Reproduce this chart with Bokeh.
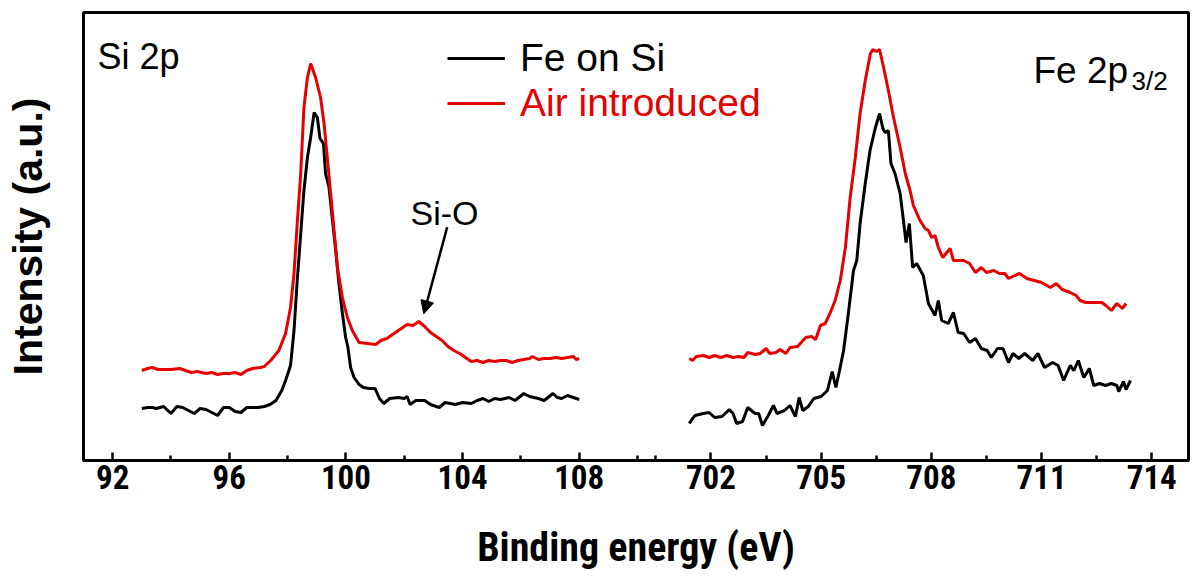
from bokeh.plotting import figure
from bokeh.models import (Range1d, LinearAxis, FixedTicker, Legend, LegendItem,
                          Label, Arrow, NormalHead)
from bokeh.embed import file_html
from bokeh.resources import INLINE

# ---------------- data (binding energy in eV, intensity in a.u.) ----------------
si_e_fe = [93.0, 93.2, 93.36, 93.5, 93.75, 94.0, 94.2, 94.4, 94.6, 94.8, 95.0, 95.2, 95.4,
           95.6, 95.8, 96.0, 96.2, 96.4, 96.6, 96.8, 97.0, 97.2, 97.4, 97.6, 97.8, 97.93,
           98.1, 98.22, 98.33, 98.45, 98.56, 98.68, 98.79, 98.91, 99.02, 99.11, 99.23, 99.3,
           99.42, 99.54, 99.65, 99.76, 99.88, 99.99, 100.07, 100.16, 100.28, 100.45, 100.6,
           100.8, 101.0, 101.15, 101.3, 101.5, 101.8, 102.0, 102.1, 102.2, 102.4, 102.7,
           102.9, 103.2, 103.4, 103.75, 104.0, 104.3, 104.5, 104.7, 104.9, 105.1, 105.3,
           105.6, 105.8, 106.1, 106.3, 106.6, 106.8, 107.1, 107.25, 107.4, 107.6, 107.8, 108.0]
si_fe_on_si = [52, 53, 53, 52, 54, 47, 54, 53, 50, 47, 52, 51, 48,
               45, 53, 53, 49, 48, 53, 53, 53, 54, 56, 60, 70, 80,
               95, 130, 180, 227, 270, 303, 323, 348, 343, 322, 317, 287,
               273, 240, 210, 177, 147, 123, 113, 93, 83, 76, 73,
               72, 72, 62, 57, 62, 63, 62, 64, 56, 60, 60,
               56, 53, 58, 56, 58, 57, 60, 62, 59, 62, 61,
               63, 60, 67, 64, 62, 60, 67, 63, 62, 65, 63, 61]

si_e_air = [93.0, 93.2, 93.36, 93.55, 93.75, 94.0, 94.3, 94.5, 94.7, 94.9, 95.2, 95.4, 95.6,
            95.8, 96.0, 96.2, 96.4, 96.6, 96.8, 97.07, 97.2, 97.42, 97.7, 97.93, 98.1, 98.22,
            98.33, 98.45, 98.56, 98.68, 98.79, 98.96, 99.13, 99.25, 99.36, 99.54, 99.71, 99.88,
            100.05, 100.22, 100.45, 100.74, 101.02, 101.2, 101.4, 101.6, 101.9, 102.1, 102.3,
            102.5, 102.7, 102.9, 103.1, 103.3, 103.5, 103.7, 103.9, 104.1, 104.3, 104.5, 104.7,
            104.9, 105.1, 105.3, 105.5, 105.7, 105.9, 106.1, 106.3, 106.4, 106.6, 106.8, 107.0,
            107.2, 107.4, 107.6, 107.8, 107.9, 108.0]
si_air = [90, 92, 93, 91, 91, 91, 92, 90, 88, 89, 87, 88, 86,
          87, 87, 88, 86, 90, 92, 93, 94, 100, 110, 127, 153, 187,
          237, 287, 353, 383, 397, 383, 363, 337, 303, 247, 193, 163,
          143, 130, 118, 117, 116, 120, 122, 126, 132, 136, 135,
          139, 134, 128, 124, 120, 114, 110, 107, 103, 99, 100, 98,
          100, 99, 100, 100, 98, 100, 101, 102, 104, 101, 102, 102,
          103, 102, 103, 104, 101, 102]

fe_e_fe = [701.41, 701.5, 701.57, 701.79, 701.95, 702.1, 702.3, 702.5, 702.6, 702.7, 702.86,
           703.0, 703.2, 703.3, 703.4, 703.56, 703.7, 703.8, 704.0, 704.15, 704.3, 704.4, 704.5,
           704.65, 704.8, 705.0, 705.17, 705.3, 705.4, 705.5, 705.61, 705.74, 705.88, 705.97,
           706.06, 706.2, 706.33, 706.47, 706.59, 706.68, 706.74, 706.83, 706.9, 707.01, 707.15,
           707.24, 707.31, 707.4, 707.49, 707.6, 707.78, 707.92, 708.1, 708.19, 708.28, 708.46,
           708.6, 708.73, 708.88, 709.04, 709.2, 709.36, 709.52, 709.63, 709.8, 709.95, 710.1,
           710.22, 710.38, 710.54, 710.76, 710.9, 711.08, 711.3, 711.45, 711.6, 711.78, 711.88,
           712.0, 712.15, 712.3, 712.42, 712.58, 712.74, 712.9, 713.05, 713.1, 713.23, 713.3, 713.42]
fe_fe_on_si = [37, 42, 45, 47, 48, 43, 44, 51, 47, 37, 39,
               53, 47, 47, 35, 45, 55, 47, 50, 55, 44, 63, 50,
               54, 62, 64, 70, 89, 73, 90, 110, 147, 190, 200,
               237, 277, 310, 332, 347, 332, 328, 330, 297, 287, 267,
               240, 218, 237, 193, 197, 185, 157, 145, 160, 140, 137,
               148, 128, 127, 118, 122, 112, 110, 103, 112, 112, 98,
               107, 102, 107, 100, 107, 93, 98, 95, 80, 95, 90,
               100, 83, 92, 75, 77, 75, 77, 75, 69, 79, 71, 80]

fe_e_air = [701.41, 701.5, 701.6, 701.8, 701.95, 702.1, 702.27, 702.43, 702.6, 702.75, 702.9,
            703.0, 703.2, 703.34, 703.5, 703.6, 703.77, 703.88, 704.04, 704.15, 704.36, 704.58,
            704.74, 704.85, 704.98, 705.11, 705.25, 705.38, 705.52, 705.66, 705.79, 705.93,
            706.06, 706.2, 706.34, 706.41, 706.5, 706.59, 706.7, 706.83, 706.97, 707.15, 707.29,
            707.42, 707.51, 707.69, 707.83, 707.92, 708.01, 708.1, 708.19, 708.31, 708.42,
            708.51, 708.6, 708.73, 708.88, 709.04, 709.2, 709.36, 709.5, 709.7, 709.85, 710.0,
            710.1, 710.27, 710.4, 710.6, 710.8, 711.0, 711.24, 711.4, 711.56, 711.78, 711.94,
            712.05, 712.2, 712.4, 712.64, 712.75, 712.9, 713.05, 713.2, 713.3]
fe_air = [102, 100, 104, 105, 103, 105, 103, 105, 103, 104, 103,
          108, 106, 107, 112, 107, 108, 111, 107, 113, 114, 123,
          124, 121, 135, 137, 148, 160, 180, 213, 263, 303,
          347, 380, 407, 411, 409, 411, 393, 370, 343, 313, 287,
          270, 255, 240, 232, 230, 223, 225, 213, 203, 208,
          212, 200, 200, 200, 197, 188, 193, 188, 190, 187, 187,
          182, 185, 187, 182, 180, 178, 173, 177, 171, 168, 165,
          160, 158, 158, 158, 155, 150, 157, 152, 157]

si_ticks = [92, 96, 100, 104, 108]
si_minor = [94, 98, 102, 106, 110]
fe_ticks = [702, 705, 708, 711, 714]
fe_minor = [700.5, 703.5, 706.5, 709.5, 712.5]

series_names = ["Fe on Si", "Air introduced"]
series_colors = ["black", "#e60000"]

# ---------------- layout ----------------
W, H = 1200, 583
BL, BR, BT, BB = 83, 12, 12, 123
FW = W - BL - BR
LEFT_PX = 554
RIGHT_PX = FW - LEFT_PX
si_lo, si_hi = 91, 110
fe_lo, fe_hi = 700, 715

x_si = Range1d(si_lo, si_lo + (si_hi - si_lo) * FW / LEFT_PX)
x_fe = Range1d(fe_hi - (fe_hi - fe_lo) * FW / RIGHT_PX, fe_hi)

def fe_to_si(e):  # where an Fe-panel energy falls on the shared bottom axis
    return x_si.start + (e - x_fe.start) * (x_si.end - x_si.start) / (x_fe.end - x_fe.start)

def lx(px):  # page pixel -> Si-panel x (annotation placement)
    return si_lo + (px - BL) * (si_hi - si_lo) / LEFT_PX

def rx(px):  # page pixel -> Fe-panel x
    return fe_lo + (px - BL - LEFT_PX) * (fe_hi - fe_lo) / RIGHT_PX

def vy(py):  # page pixel -> intensity
    return (H - BB) - py

p = figure(width=W, height=H, x_range=x_si, y_range=Range1d(0, H - BB - BT),
           x_axis_type=None, y_axis_type=None, toolbar_location=None,
           output_backend="svg", min_border_left=BL, min_border_right=BR,
           min_border_top=BT, min_border_bottom=BB)
p.extra_x_ranges = {"fe": x_fe}
p.outline_line_color = "black"
p.outline_line_width = 3
p.outline_line_alpha = 1
p.background_fill_color = "white"
p.border_fill_color = "white"

TICK_FONT = ("'Liberation Sans Narrow', 'Arial Narrow', 'Noto Sans Condensed', "
             "'Roboto Condensed', 'Liberation Sans', Arial, sans-serif")

fe_pos = [fe_to_si(t) for t in fe_ticks]
fe_minor_pos = [fe_to_si(t) for t in fe_minor]
overrides = {float(t): str(t) for t in si_ticks}
overrides.update({pos: str(t) for pos, t in zip(fe_pos, fe_ticks)})

ax = LinearAxis(ticker=FixedTicker(ticks=[float(t) for t in si_ticks] + fe_pos,
                                   minor_ticks=[float(t) for t in si_minor] + fe_minor_pos),
                major_label_overrides=overrides,
                axis_label="Binding energy (eV)")
ax.axis_line_color = None
ax.major_tick_in = 8
ax.major_tick_out = 0
ax.minor_tick_in = 5
ax.minor_tick_out = 0
ax.major_tick_line_width = 2.5
ax.minor_tick_line_width = 2.5
ax.major_tick_line_color = "black"
ax.minor_tick_line_color = "black"
ax.major_label_text_font = TICK_FONT
ax.major_label_text_font_size = "33px"
ax.major_label_text_font_style = "bold"
ax.major_label_text_color = "black"
ax.major_label_standoff = 4
ax.axis_label_text_font = TICK_FONT
ax.axis_label_text_font_size = "40px"
ax.axis_label_text_font_style = "bold"
ax.axis_label_text_color = "black"
ax.axis_label_standoff = 32
p.add_layout(ax, "below")

ay = LinearAxis(ticker=FixedTicker(ticks=[]), axis_label="Intensity (a.u.)")
ay.axis_line_color = None
ay.major_tick_out = 0
ay.major_tick_in = 0
ay.major_label_standoff = 0
ay.axis_label_standoff = 33
ay.axis_label_text_font = "Liberation Sans"
ay.axis_label_text_font_size = "41px"
ay.axis_label_text_font_style = "bold"
ay.axis_label_text_color = "black"
p.add_layout(ay, "left")

# ---------------- curves ----------------
r_si_fe = p.line(si_e_fe, si_fe_on_si, line_color=series_colors[0], line_width=3)
r_si_air = p.line(si_e_air, si_air, line_color=series_colors[1], line_width=3)
p.line(fe_e_fe, fe_fe_on_si, line_color=series_colors[0], line_width=3, x_range_name="fe")
p.line(fe_e_air, fe_air, line_color=series_colors[1], line_width=3, x_range_name="fe")

# ---------------- legends ----------------
for name, color, rend, yloc in [(series_names[0], series_colors[0], r_si_fe, 379),
                                (series_names[1], series_colors[1], r_si_air, 334)]:
    leg = Legend(items=[LegendItem(label=name, renderers=[rend])], location=(364, yloc),
                 glyph_width=58, glyph_height=20, label_height=46, label_standoff=15,
                 padding=0, margin=0, spacing=0, border_line_color=None,
                 background_fill_alpha=0, label_text_font="Liberation Sans",
                 label_text_font_size="39px", label_text_color=color)
    p.add_layout(leg)

# ---------------- annotations ----------------
TXT = "Liberation Sans"
p.add_layout(Label(x=lx(97), y=vy(56), text="Si 2p", text_font=TXT, text_font_size="36px",
                   text_color="black", text_align="left", text_baseline="alphabetic"))
p.add_layout(Label(x=rx(1033), y=vy(70), x_range_name="fe", text="Fe 2p", text_font=TXT,
                   text_font_size="37px", text_color="black", text_align="left",
                   text_baseline="alphabetic"))
p.add_layout(Label(x=rx(1131), y=vy(80), x_range_name="fe", text="3/2", text_font=TXT,
                   text_font_size="26px", text_color="black", text_align="left",
                   text_baseline="alphabetic"))
p.add_layout(Label(x=lx(410), y=vy(212), text="Si-O", text_font=TXT, text_font_size="34px",
                   text_color="black", text_align="left", text_baseline="alphabetic"))
p.add_layout(Arrow(end=NormalHead(size=13, fill_color="black", line_color="black"),
                   x_start=lx(446.7), y_start=vy(226.7), x_end=lx(423.3), y_end=vy(313.3),
                   line_width=2.5, line_color="black"))

open("out.html", "w").write(file_html(p, INLINE))
